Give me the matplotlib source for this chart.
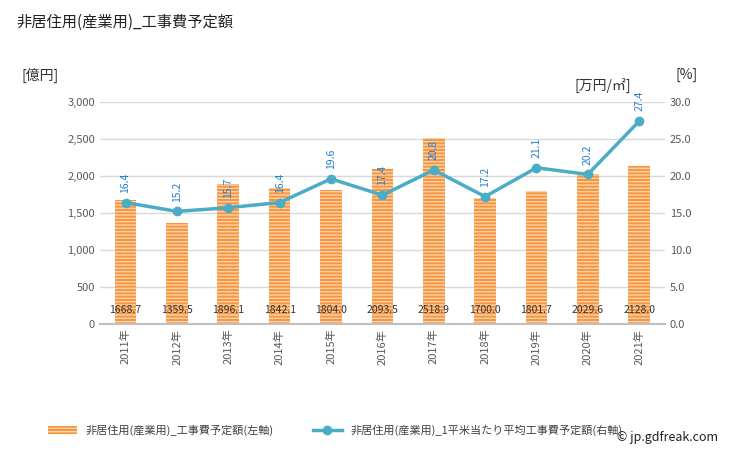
import matplotlib
matplotlib.use("Agg")
import matplotlib.pyplot as plt
import numpy as np

plt.rcParams['font.family'] = ['Noto Sans CJK JP', 'DejaVu Sans']
plt.rcParams['hatch.linewidth'] = 1.0

# dados
anos = ["2011年", "2012年", "2013年", "2014年", "2015年", "2016年",
        "2017年", "2018年", "2019年", "2020年", "2021年"]
valores = [1668.7, 1359.5, 1896.1, 1842.1, 1804.0, 2093.5,
           2518.9, 1700.0, 1801.7, 2029.6, 2128.0]
medias = [16.4, 15.2, 15.7, 16.4, 19.6, 17.4, 20.8, 17.2, 21.1, 20.2, 27.4]

fig = plt.figure(figsize=(7.29, 4.51), dpi=100)
ax = fig.add_axes([0.137, 0.282, 0.775, 0.492])
ax2 = ax.twinx()

x = np.arange(len(anos))

# barras (eixo esquerdo)
plt.rcParams['hatch.color'] = '#fdd3ad'
ax.bar(x, valores, width=0.42, color='#f8953d', edgecolor='#fdd3ad',
       linewidth=0, hatch='-----', label='非居住用(産業用)_工事費予定額(左軸)', zorder=2)
for xi, v in zip(x, valores):
    ax.text(xi, 190, f"{v:.1f}", ha='center', va='center', fontsize=7.5,
            color='#333333', zorder=5)

ax.set_ylim(0, 3000)
ax.set_yticks(range(0, 3001, 500))
ax.set_yticklabels([f"{t:,}" for t in range(0, 3001, 500)])
ax.set_xlim(-0.5, len(anos) - 0.5)
ax.set_xticks(x)
ax.set_xticklabels(anos, rotation=90)
ax.grid(axis='y', color='#d9d9d9', linewidth=1, zorder=0)
ax.set_axisbelow(True)
for s in ['top', 'right', 'left']:
    ax.spines[s].set_visible(False)
ax.spines['bottom'].set_color('#bfbfbf')
ax.spines['bottom'].set_linewidth(1.5)
ax.tick_params(axis='both', length=0, labelsize=8, colors='#595959')

# linha (eixo direito)
ax2.plot(x, medias, color='#4bacc6', linewidth=2.5, marker='o', markersize=6,
         label='非居住用(産業用)_1平米当たり平均工事費予定額(右軸)', zorder=4)
for xi, m in zip(x, medias):
    ax2.annotate(f"{m:.1f}", (xi, m), xytext=(0, 7), textcoords='offset points',
                 rotation=90, ha='center', va='bottom', fontsize=7.5,
                 color='#1f7fd0')
ax2.set_ylim(0, 30)
ax2.set_yticks(np.arange(0, 30.1, 5))
ax2.set_yticklabels([f"{t:.1f}" for t in np.arange(0, 30.1, 5)])
for s in ['top', 'right', 'left', 'bottom']:
    ax2.spines[s].set_visible(False)
ax2.tick_params(axis='y', length=0, labelsize=8, colors='#595959')

# titulo e unidades
fig.text(0.022, 0.95, "非居住用(産業用)_工事費予定額", fontsize=11, color='#222222',
         ha='left', va='center')
fig.text(0.03, 0.833, "[億円]", fontsize=10, color='#333333', ha='left', va='center')
fig.text(0.866, 0.81, "[万円/㎡]", fontsize=10, color='#333333', ha='right', va='center')
fig.text(0.927, 0.833, "[%]", fontsize=10, color='#333333', ha='left', va='center')

# legenda
h1, l1 = ax.get_legend_handles_labels()
h2, l2 = ax2.get_legend_handles_labels()
fig.legend(h1 + h2, l1 + l2, loc='center', bbox_to_anchor=(0.46, 0.045), ncol=2,
           frameon=False, fontsize=8, handlelength=2.6, columnspacing=3.5,
           labelcolor='#404040')

fig.text(0.985, 0.03, "© jp.gdfreak.com", fontsize=9, color='#222222',
         ha='right', va='center')

fig.savefig('out.png', dpi=100)
